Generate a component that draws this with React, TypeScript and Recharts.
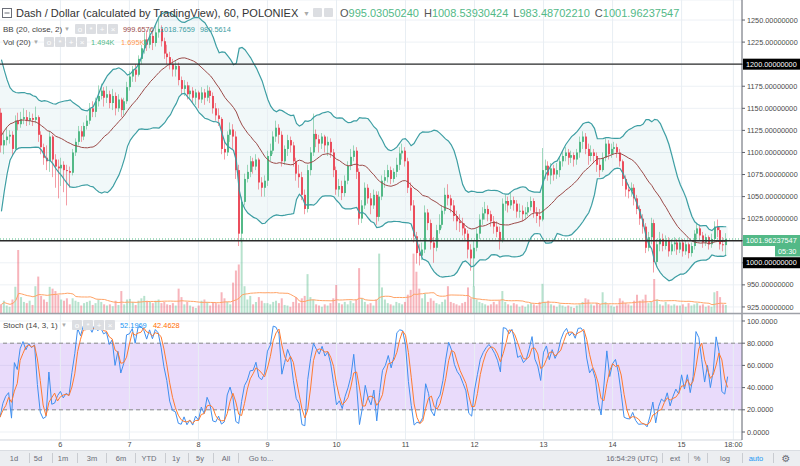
import React from 'react';
import {
  ComposedChart,
  Bar,
  Line,
  Area,
  XAxis,
  YAxis,
  CartesianGrid,
  ReferenceLine,
  ReferenceArea,
  Cell
} from 'recharts';

const FONT = "'Liberation Sans', Arial, sans-serif";

// hourly candles, one array per day: [close, high, low, volume (K)]
// open of each candle = close of the previous one
const firstOpen = 1145;
// closes before the first visible candle, only used to seed BB / stoch windows
const warmupCloses = [1005, 1030, 1055, 1080, 1100, 1115, 1128, 1138, 1150, 1142, 1155, 1148, 1160, 1152, 1145, 1150, 1138, 1145, 1140];

const day5 = [
  [1108, 1150, 1100, 1.6], [1114, 1122, 1098, 2.2], [1118, 1128, 1108, 1.4], [1120, 1125, 1110, 1.2],
  [1104, 1124, 1096, 2.4], [1136, 1142, 1102, 4.5], [1132, 1145, 1125, 10.6], [1138, 1146, 1128, 2.8],
  [1140, 1150, 1132, 2.0], [1136, 1148, 1130, 1.8], [1139, 1146, 1131, 2.2], [1137, 1144, 1130, 1.5],
  [1140, 1152, 1133, 4.6], [1120, 1142, 1112, 6.2], [1106, 1124, 1098, 3.0], [1094, 1110, 1086, 2.4],
  [1090, 1108, 1080, 2.0], [1118, 1124, 1078, 4.5], [1092, 1120, 1072, 4.2], [1084, 1098, 1060, 3.8],
  [1082, 1092, 1048, 3.2]
];
const day6 = [
  [1086, 1094, 1062, 2.4], [1080, 1090, 1055, 2.2], [1079, 1086, 1040, 2.6], [1077, 1084, 1060, 1.6],
  [1100, 1104, 1074, 2.6], [1112, 1116, 1096, 2.2], [1124, 1130, 1108, 2.0], [1118, 1130, 1112, 1.4],
  [1130, 1134, 1114, 1.8], [1136, 1142, 1126, 2.0], [1150, 1156, 1132, 2.2], [1146, 1158, 1140, 1.5],
  [1158, 1162, 1140, 1.8], [1164, 1176, 1152, 2.4], [1170, 1178, 1160, 2.0], [1162, 1174, 1152, 1.6],
  [1166, 1175, 1156, 1.4], [1156, 1170, 1150, 1.6], [1164, 1172, 1148, 1.3], [1150, 1168, 1142, 2.2],
  [1160, 1166, 1146, 1.5], [1148, 1162, 1140, 3.8], [1158, 1162, 1142, 1.6], [1174, 1180, 1155, 2.4]
];
const day7 = [
  [1186, 1192, 1170, 2.5], [1194, 1198, 1180, 2.0], [1188, 1200, 1180, 1.5], [1206, 1210, 1186, 2.2],
  [1218, 1222, 1200, 2.6], [1228, 1236, 1212, 3.0], [1222, 1238, 1215, 2.2], [1232, 1240, 1218, 2.0],
  [1224, 1238, 1216, 1.8], [1236, 1244, 1220, 2.2], [1240, 1252, 1230, 2.4], [1226, 1244, 1220, 1.8],
  [1212, 1230, 1206, 2.0], [1208, 1222, 1200, 1.6], [1200, 1214, 1194, 1.5], [1194, 1206, 1186, 1.8],
  [1198, 1204, 1186, 1.4], [1182, 1202, 1176, 4.2], [1172, 1186, 1166, 2.8], [1176, 1182, 1164, 1.6],
  [1166, 1180, 1160, 2.0], [1170, 1176, 1160, 1.4], [1162, 1174, 1156, 1.2], [1168, 1172, 1154, 1.0]
];
const day8 = [
  [1160, 1170, 1150, 1.4], [1168, 1174, 1156, 2.2], [1162, 1172, 1154, 2.4], [1170, 1176, 1158, 2.0],
  [1164, 1174, 1156, 1.4], [1150, 1168, 1144, 2.0], [1142, 1156, 1136, 1.8], [1138, 1150, 1130, 1.6],
  [1104, 1140, 1098, 3.6], [1100, 1112, 1092, 2.6], [1120, 1124, 1096, 2.0], [1126, 1134, 1112, 1.6],
  [1118, 1132, 1104, 5.2], [1080, 1124, 1070, 7.2], [1008, 1086, 994, 8.2], [1044, 1050, 998, 12.6],
  [1070, 1076, 1040, 4.6], [1078, 1086, 1066, 2.4], [1090, 1096, 1072, 3.0], [1084, 1094, 1076, 1.6],
  [1092, 1098, 1080, 2.0], [1066, 1094, 1058, 2.8], [1060, 1072, 1050, 2.2], [1068, 1074, 1050, 1.8]
];
const day9 = [
  [1096, 1102, 1062, 1.8], [1102, 1110, 1090, 1.6], [1118, 1124, 1098, 2.0], [1128, 1136, 1112, 2.2],
  [1120, 1132, 1110, 1.8], [1090, 1124, 1084, 2.6], [1104, 1108, 1086, 1.5], [1114, 1120, 1096, 1.4],
  [1108, 1118, 1100, 1.2], [1090, 1112, 1084, 2.0], [1076, 1094, 1068, 2.8], [1072, 1086, 1060, 1.8],
  [1052, 1078, 1046, 2.6], [1036, 1058, 1030, 3.0], [1080, 1086, 1032, 6.6], [1100, 1106, 1074, 2.8],
  [1121, 1144, 1096, 2.4], [1115, 1126, 1106, 1.6], [1110, 1120, 1100, 1.4], [1118, 1122, 1104, 1.2],
  [1108, 1120, 1100, 1.6], [1112, 1118, 1096, 1.4], [1100, 1116, 1094, 1.8], [1080, 1104, 1072, 2.6]
];
const day10 = [
  [1058, 1084, 1052, 4.8], [1062, 1070, 1050, 1.8], [1054, 1068, 1046, 1.6], [1068, 1074, 1050, 2.0],
  [1085, 1090, 1064, 1.6], [1095, 1104, 1080, 2.2], [1102, 1108, 1090, 1.8], [1078, 1106, 1070, 2.4],
  [1025, 1082, 1018, 7.6], [1040, 1046, 1020, 2.6], [1060, 1066, 1036, 2.0], [1048, 1064, 1042, 1.6],
  [1040, 1054, 1030, 1.8], [1052, 1058, 1036, 1.4], [1027, 1056, 1018, 2.4], [1050, 1056, 1022, 10.0],
  [1068, 1074, 1046, 4.4], [1072, 1080, 1060, 2.4], [1080, 1086, 1066, 1.8], [1070, 1084, 1064, 1.6],
  [1078, 1082, 1066, 1.4], [1086, 1094, 1072, 2.0], [1099, 1106, 1080, 1.8], [1102, 1110, 1092, 1.6]
];
const day11 = [
  [1090, 1106, 1084, 2.0], [1060, 1094, 1054, 3.2], [1040, 1066, 1034, 4.0], [1005, 1046, 998, 10.0],
  [986, 1010, 974, 7.0], [983, 996, 972, 4.2], [990, 998, 978, 2.6], [1032, 1040, 986, 3.4],
  [1020, 1036, 1012, 2.0], [998, 1024, 990, 2.6], [992, 1004, 975, 2.2], [1012, 1018, 988, 1.8],
  [1018, 1030, 1008, 1.6], [1034, 1040, 1014, 2.0], [1052, 1060, 1030, 2.4], [1048, 1064, 1040, 4.6],
  [1040, 1052, 1032, 2.0], [1028, 1046, 1022, 1.8], [1022, 1034, 1012, 1.6], [1020, 1030, 1010, 1.4],
  [1014, 1026, 1006, 1.8], [1008, 1020, 1000, 2.0], [990, 1012, 980, 4.4], [980, 996, 966, 2.6]
];
const day12 = [
  [992, 1000, 948, 4.6], [1008, 1014, 988, 2.4], [1024, 1030, 1002, 2.0], [1031, 1038, 1018, 1.8],
  [1036, 1044, 1024, 1.6], [1030, 1040, 1022, 1.4], [1022, 1034, 1016, 1.6], [1016, 1028, 1008, 2.0],
  [1010, 1022, 1004, 1.6], [1000, 1016, 990, 2.2], [1042, 1048, 998, 3.8], [1045, 1052, 1034, 2.0],
  [1040, 1050, 1032, 1.6], [1046, 1054, 1036, 1.4], [1042, 1050, 1034, 1.8], [1033, 1046, 1026, 1.6],
  [1034, 1042, 1026, 1.2], [1030, 1040, 1022, 1.4], [1032, 1038, 1024, 1.2], [1038, 1044, 1028, 1.6],
  [1045, 1050, 1034, 1.8], [1032, 1048, 1026, 1.6], [1028, 1038, 1020, 1.4], [1024, 1036, 1016, 2.0]
];
const day13 = [
  [1080, 1105, 1022, 5.0], [1085, 1092, 1070, 2.0], [1074, 1090, 1068, 2.2], [1082, 1088, 1064, 1.6],
  [1075, 1086, 1068, 1.4], [1080, 1088, 1070, 1.2], [1090, 1096, 1072, 1.6], [1096, 1102, 1084, 1.4],
  [1100, 1106, 1090, 1.2], [1094, 1104, 1086, 1.4], [1097, 1102, 1088, 1.2], [1092, 1100, 1084, 1.0],
  [1100, 1104, 1086, 1.4], [1112, 1118, 1094, 1.6], [1118, 1124, 1104, 2.0], [1104, 1122, 1098, 2.6],
  [1096, 1110, 1086, 2.4], [1100, 1108, 1090, 1.6], [1096, 1104, 1088, 1.4], [1086, 1100, 1078, 1.8],
  [1080, 1092, 1072, 1.6], [1094, 1100, 1078, 3.6], [1110, 1116, 1090, 2.0], [1098, 1114, 1092, 1.6]
];
const day14 = [
  [1104, 1110, 1094, 1.4], [1106, 1112, 1098, 1.2], [1100, 1110, 1094, 1.4], [1090, 1104, 1084, 2.6],
  [1070, 1092, 1062, 2.2], [1058, 1074, 1050, 1.8], [1056, 1064, 1048, 1.6], [1060, 1066, 1050, 1.4],
  [1048, 1064, 1040, 2.2], [1036, 1052, 1030, 3.2], [1025, 1040, 1018, 2.2], [1016, 1030, 1008, 2.4],
  [992, 1020, 986, 3.2], [1004, 1010, 988, 1.8], [1020, 1026, 996, 2.0], [976, 1024, 964, 5.8],
  [996, 1002, 970, 2.4], [1002, 1010, 988, 1.6], [994, 1008, 988, 1.4], [1000, 1006, 990, 2.0],
  [988, 1004, 982, 1.6], [996, 1002, 984, 1.4], [998, 1004, 988, 1.6], [990, 1002, 984, 1.4]
];
const day15 = [
  [998, 1004, 986, 1.4], [988, 1002, 982, 1.6], [996, 1000, 984, 1.2], [986, 998, 980, 1.8],
  [994, 998, 982, 1.4], [1008, 1012, 990, 1.6], [1014, 1020, 1002, 1.8], [1006, 1018, 1000, 1.4],
  [998, 1010, 992, 1.6], [1004, 1008, 994, 1.2], [996, 1006, 990, 1.4], [1002, 1008, 992, 1.2],
  [1016, 1022, 998, 3.6], [1012, 1024, 1004, 3.8], [996, 1016, 990, 2.8], [995.03, 1004, 988, 1.6],
  [1001.96237547, 1008.5393, 983.4870, 1.494]
];

const days = [day5, day6, day7, day8, day9, day10, day11, day12, day13, day14, day15];
const SLOTS = 259; // candle slots incl. empty space on the right

const dayTicks = [21, 45, 69, 93, 117, 141, 165, 189, 213, 237, 255];
const dayLabels = ['6', '7', '8', '9', '10', '11', '12', '13', '14', '15', '18:00'];
const priceTicks = [925, 950, 975, 1000, 1025, 1050, 1075, 1100, 1125, 1150, 1175, 1200, 1225, 1250];
const stochTicks = [0, 20, 40, 60, 80, 100];
const priceDomain = [917, 1272.7];
const lastPrice = 1001.96237547;

// build rows + indicators (BB 20/2, vol MA 20, stoch 14/3/1)
const candles = days.flat();
const W = warmupCloses.length;
const allCloses = [...warmupCloses, ...candles.map((c) => c[0])];
const rows: any[] = [];
for (let i = 0; i < SLOTS; i++) {
  if (i >= candles.length) {
    rows.push({ i });
    continue;
  }
  const [c, h, l, v] = candles[i];
  const o = i === 0 ? firstOpen : candles[i - 1][0];
  const win = allCloses.slice(W + i - 19, W + i + 1);
  const m = win.reduce((a, b) => a + b, 0) / win.length;
  const sd = Math.sqrt(win.reduce((a, b) => a + (b - m) * (b - m), 0) / win.length);
  const vw = candles.slice(Math.max(0, i - 19), i + 1).map((x) => x[3]);
  let hh = -Infinity;
  let ll = Infinity;
  for (let j = i - 13; j <= i; j++) {
    const hi = j >= 0 ? candles[j][1] : warmupCloses[W + j];
    const lo = j >= 0 ? candles[j][2] : warmupCloses[W + j];
    hh = Math.max(hh, hi);
    ll = Math.min(ll, lo);
  }
  rows.push({
    i,
    o,
    c,
    h: Math.max(h, o, c),
    l: Math.min(l, o, c),
    v,
    up: c >= o,
    bm: m,
    bu: m + 2 * sd,
    bl: m - 2 * sd,
    vma: vw.reduce((a, b) => a + b, 0) / vw.length,
    k: hh === ll ? 50 : (100 * (c - ll)) / (hh - ll)
  });
}
rows.forEach((r, i) => {
  if (r.k == null) return;
  const ks = rows.slice(Math.max(0, i - 2), i + 1).map((x) => x.k);
  r.d = ks.reduce((a: number, b: number) => a + b, 0) / ks.length;
});

const UP = '#53b987';
const DOWN = '#eb4d5c';

const Candle = (p: any) => {
  const { x, y, width, height, payload } = p;
  if (payload == null || payload.c == null) return null;
  const { o, c, h, l } = payload;
  const k = h === l ? 0 : height / (h - l);
  const cx = Math.round(x + width / 2);
  const top = y + (h - Math.max(o, c)) * k;
  const bot = y + (h - Math.min(o, c)) * k;
  const col = c >= o ? UP : DOWN;
  return (
    <g>
      <line x1={cx - 0.5} x2={cx - 0.5} y1={y} y2={y + height} stroke={col} strokeOpacity={0.55} />
      <rect x={cx - 1} y={top} width={2} height={Math.max(1, bot - top)} fill={col} />
    </g>
  );
};

const AxisBadge = ({ viewBox, text, bg, dy = 0, small = false }: any) => {
  if (!viewBox) return null;
  const right = viewBox.x + viewBox.width;
  const yy = viewBox.y + dy;
  const w = small ? 25 : 57;
  const bx = small ? 800 - w : right + 1;
  return (
    <g>
      <rect x={bx} y={yy - 5.5} width={w} height={11} fill={bg} />
      <text x={bx + 3} y={yy} dy="0.35em" fontSize={7.3} fill="#fff" fontFamily={FONT}>
        {text}
      </text>
    </g>
  );
};

const LastBadge = (props: any) => (
  <g>
    <AxisBadge {...props} text="1001.96237547" bg={UP} dy={1.5} />
    <AxisBadge {...props} text="05:30" bg={UP} dy={12} small />
  </g>
);

const fmtPrice = (v: number) => (v === 975 || v === 1000 ? '' : v.toFixed(8));
const fmtDay = (v: number) => dayLabels[dayTicks.indexOf(v)] ?? '';

const axisTick = { fontSize: 7.3, fill: '#4a4a4a', fontFamily: FONT };
const layer: React.CSSProperties = { position: 'absolute', left: 0, top: 0 };

const IconRow = ({ x, y }: { x: number; y: number }) => (
  <g>
    {[0, 1, 2, 3].map((n) => (
      <g key={n}>
        <rect x={x + n * 11} y={y} width={10} height={10} rx={1} fill="#dcdee2" />
        <text x={x + n * 11 + 5} y={y + 8} textAnchor="middle" fontSize={8} fill="#fff" fontFamily={FONT}>
          {['o', '*', '+', '×'][n]}
        </text>
      </g>
    ))}
  </g>
);

const toolbarLeft = [
  ['1d', 14], ['5d', 38], ['1m', 63], ['3m', 92], ['6m', 121], ['YTD', 149], ['1y', 176], ['5y', 200], ['All', 226], ['Go to...', 261]
];
const toolbarSeps = [29, 52, 77, 106, 135, 165, 188, 213, 238, 662, 688, 707, 742, 773];
const toolbarRight = [
  ['16:54:29 (UTC)', 632], ['ext', 675], ['%', 697], ['log', 725]
];

export default function App() {
  return (
    <div style={{ position: 'absolute', left: 0, top: 0, width: 800, height: 466, background: '#fff', overflow: 'hidden' }}>
      {/* grid, price axis, BB fill */}
      <div style={layer}>
        <ComposedChart width={800} height={314} data={rows} margin={{ top: 0, right: 0, left: 0, bottom: 0 }}>
          <CartesianGrid vertical={false} stroke="#edf1f5" />
          <XAxis dataKey="i" hide />
          <YAxis
            orientation="right"
            width={58}
            domain={priceDomain}
            allowDataOverflow
            ticks={priceTicks}
            interval={0}
            tickFormatter={fmtPrice}
            tick={axisTick}
            tickSize={3}
            tickMargin={2}
            axisLine={{ stroke: '#5d606b' }}
            tickLine={{ stroke: '#5d606b' }}
          />
          {dayTicks.map((t) => (
            <ReferenceLine key={t} x={t} stroke="#e8eef3" />
          ))}
          <Area
            dataKey={(d: any) => (d.bu == null ? null : [d.bl, d.bu])}
            stroke="none"
            fill="#3d9ea3"
            fillOpacity={0.07}
            activeDot={false}
            isAnimationActive={false}
          />
        </ComposedChart>
      </div>

      {/* volume */}
      <div style={layer}>
        <ComposedChart width={800} height={314} data={rows} margin={{ top: 0, right: 58, left: 0, bottom: 0 }}>
          <XAxis dataKey="i" hide />
          <YAxis hide domain={[0, 52]} allowDataOverflow />
          <Bar dataKey="v" barSize={2} isAnimationActive={false}>
            {rows.map((r) => (
              <Cell key={r.i} fill={r.up ? 'rgba(83,185,135,0.42)' : 'rgba(235,77,92,0.42)'} />
            ))}
          </Bar>
          <Line dataKey="vma" stroke="#ffa366" strokeWidth={1} dot={false} activeDot={false} isAnimationActive={false} />
        </ComposedChart>
      </div>

      {/* bands + candles */}
      <div style={layer}>
        <ComposedChart width={800} height={314} data={rows} margin={{ top: 0, right: 58, left: 0, bottom: 0 }}>
          <XAxis dataKey="i" hide />
          <YAxis hide domain={priceDomain} allowDataOverflow />
          <Line dataKey="bu" stroke="#3d9ea3" strokeWidth={1.2} dot={false} activeDot={false} isAnimationActive={false} />
          <Line dataKey="bl" stroke="#3d9ea3" strokeWidth={1.2} dot={false} activeDot={false} isAnimationActive={false} />
          <Line dataKey="bm" stroke="#9b4a48" strokeWidth={1} dot={false} activeDot={false} isAnimationActive={false} />
          <Bar
            dataKey={(d: any) => (d.c == null ? null : [d.l, d.h])}
            shape={Candle}
            activeBar={false}
            isAnimationActive={false}
          />
          <ReferenceLine y={1200} stroke="#2b2b2b" strokeWidth={1.3} label={<AxisBadge text="1200.00000000" bg="#000" />} />
          <ReferenceLine y={1000} stroke="#2b2b2b" strokeWidth={1.3} label={<AxisBadge text="1000.00000000" bg="#000" dy={22} />} />
          <ReferenceLine y={lastPrice} stroke={UP} strokeDasharray="1 2" label={<LastBadge />} />
        </ComposedChart>
      </div>

      {/* stochastic */}
      <div style={{ position: 'absolute', left: 0, top: 314 }}>
        <ComposedChart width={800} height={136} data={rows} margin={{ top: 0, right: 0, left: 0, bottom: 0 }}>
          <CartesianGrid vertical={false} stroke="#edf1f5" />
          <XAxis
            dataKey="i"
            ticks={dayTicks}
            interval={0}
            tickFormatter={fmtDay}
            height={10}
            tickLine={false}
            tickSize={0}
            tickMargin={2}
            axisLine={{ stroke: '#d9dce1' }}
            tick={axisTick}
          />
          <YAxis
            orientation="right"
            width={58}
            domain={[-7.2, 106.3]}
            allowDataOverflow
            ticks={stochTicks}
            interval={0}
            tickFormatter={(v: number) => v.toFixed(4)}
            tick={axisTick}
            tickSize={3}
            tickMargin={2}
            axisLine={{ stroke: '#5d606b' }}
            tickLine={{ stroke: '#5d606b' }}
          />
          {dayTicks.map((t) => (
            <ReferenceLine key={t} x={t} stroke="#e8eef3" />
          ))}
          <ReferenceArea y1={20} y2={80} fill="#b07cf0" fillOpacity={0.28} stroke="none" />
          <ReferenceLine y={80} stroke="#8a8a8a" strokeDasharray="4 3" />
          <ReferenceLine y={20} stroke="#8a8a8a" strokeDasharray="4 3" />
          <Line dataKey="k" stroke="#3f8ff0" strokeWidth={1} dot={false} activeDot={false} isAnimationActive={false} />
          <Line dataKey="d" stroke="#ff7a2f" strokeWidth={1} dot={false} activeDot={false} isAnimationActive={false} />
        </ComposedChart>
      </div>

      {/* legends, separators, toolbar */}
      <svg width={800} height={466} style={{ position: 'absolute', left: 0, top: 0, pointerEvents: 'none' }} fontFamily={FONT}>
        <line x1={0} x2={800} y1={313.5} y2={313.5} stroke="#9ea1a8" strokeWidth={1.5} />

        <rect x={2.5} y={8.5} width={9} height={9} fill="none" stroke="#6b6e78" />
        <line x1={4.5} x2={9.5} y1={13} y2={13} stroke="#6b6e78" />
        <text x={16} y={17} fontSize={11} fill="#333">Dash / Dollar (calculated by TradingView), 60, POLONIEX</text>
        <text x={303} y={16} fontSize={7} fill="#aaa">▼</text>
        <rect x={313} y={8} width={9} height={9} rx={1} fill="#dcdee2" />
        <rect x={324} y={8} width={9} height={9} rx={1} fill="#dcdee2" />
        <text x={340} y={17} fontSize={11} fill="#555">
          O<tspan fill={UP}>995.03050240</tspan>
          <tspan dx={5}>H</tspan><tspan fill={UP}>1008.53930424</tspan>
          <tspan dx={5}>L</tspan><tspan fill={UP}>983.48702210</tspan>
          <tspan dx={5}>C</tspan><tspan fill={UP}>1001.96237547</tspan>
        </text>

        <text x={3} y={32} fontSize={8} fill="#444">BB (20, close, 2)</text>
        <text x={64} y={31} fontSize={6} fill="#aaa">▼</text>
        <IconRow x={75} y={24} />
        <text x={123} y={32} fontSize={7.4} fill="#9b4a48">999.6576</text>
        <text x={160} y={32} fontSize={7.4} fill="#3d9ea3">1018.7659</text>
        <text x={200} y={32} fontSize={7.4} fill="#3d9ea3">980.5614</text>

        <text x={3} y={45} fontSize={8} fill="#444">Vol (20)</text>
        <text x={33} y={44} fontSize={6} fill="#aaa">▼</text>
        <IconRow x={44} y={37} />
        <text x={91} y={45} fontSize={7.4} fill={UP}>1.494K</text>
        <text x={121} y={45} fontSize={7.4} fill="#ff9850">1.695K</text>

        <text x={3} y={328} fontSize={8} fill="#444">Stoch (14, 3, 1)</text>
        <text x={61} y={327} fontSize={6} fill="#aaa">▼</text>
        <IconRow x={72} y={320} />
        <text x={120} y={328} fontSize={7.4} fill="#2196f3">52.1969</text>
        <text x={153} y={328} fontSize={7.4} fill="#ff6d00">42.4628</text>

        <rect x={0} y={450} width={800} height={16} fill="#eceef1" />
        <line x1={0} x2={800} y1={450.5} y2={450.5} stroke="#dadde2" />
        {toolbarSeps.map((s) => (
          <line key={s} x1={s + 0.5} x2={s + 0.5} y1={453} y2={463} stroke="#c9ccd1" />
        ))}
        {[...toolbarLeft, ...toolbarRight].map(([t, x]) => (
          <text key={t as string} x={x as number} y={461} textAnchor="middle" fontSize={7.5} fill="#6a6d78">
            {t}
          </text>
        ))}
        <text x={756} y={461} textAnchor="middle" fontSize={7.5} fill="#2196f3">auto</text>
        <text x={786} y={462} textAnchor="middle" fontSize={10} fill="#6a6d78" fontFamily="DejaVu Sans">⚙</text>
      </svg>
    </div>
  );
}
